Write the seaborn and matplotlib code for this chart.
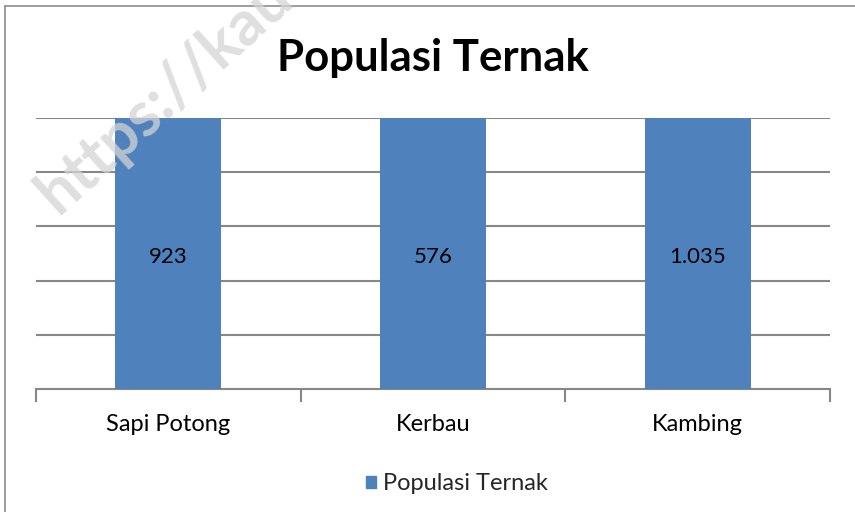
import matplotlib
matplotlib.use("Agg")
import matplotlib.pyplot as plt
import matplotlib.patches as mpatches
import seaborn as sns
import pandas as pd

categories = ["Sapi Potong", "Kerbau", "Kambing"]
values = [923, 576, 1035]
value_labels = ["923", "576", "1.035"]
series_name = "Populasi Ternak"

# 100% stacked representation: each bar is its own total
shares = [v / v * 100 for v in values]
df = pd.DataFrame({"Kategori": categories, "Persen": shares, "Seri": series_name})

sns.set_theme(style="white")
plt.rcParams['font.family'] = ['Lato', 'DejaVu Sans']

W, H = 855, 512
fig = plt.figure(figsize=(W / 100, H / 100), dpi=100)
ax = fig.add_axes([36 / W, 1 - 389 / H, (830 - 36) / W, (389 - 118) / H])

blue = "#4f81bd"
sns.barplot(data=df, x="Kategori", y="Persen", color=blue, width=0.4, ax=ax,
            saturation=1, zorder=3, linewidth=0, edgecolor=blue)

ax.set_ylim(0, 100)
ax.set_xlim(-0.5, 2.5)
ax.set_yticks([20, 40, 60, 80, 100])
ax.set_yticklabels([])
ax.tick_params(axis="y", length=0)
ax.yaxis.grid(True, color="#878787", linewidth=1.5, zorder=0)
ax.set_axisbelow(True)
for s in ["top", "right", "left"]:
    ax.spines[s].set_visible(False)
ax.spines["bottom"].set_color("#878787")
ax.spines["bottom"].set_linewidth(1.5)

ax.set_xticks([0, 1, 2])
ax.set_xticklabels(categories, fontsize=17, color="#000000")
ax.tick_params(axis="x", which="major", length=0, pad=18)
ax.set_xticks([-0.5, 0.5, 1.5, 2.5], minor=True)
ax.tick_params(axis="x", which="minor", bottom=True, length=9, width=1.5,
               color="#878787", direction="out")
ax.set_xlabel("")
ax.set_ylabel("")

for i, lab in enumerate(value_labels):
    ax.text(i, shares[i] / 2 - 1.2, lab, ha="center", va="center", fontsize=16, color="#000000", zorder=5)

fig.text(433 / W, 1 - 58 / H, series_name, ha="center", va="center",
         fontsize=31.5, fontweight="bold", color="#000000")

handle = mpatches.Patch(color=blue, label=series_name)
fig.legend(handles=[handle], loc="center", bbox_to_anchor=(457 / W, 1 - 484 / H),
           frameon=False, fontsize=17, handlelength=0.45, handleheight=0.45,
           handletextpad=0.3)

# chart frame (partially cropped)
fig.add_artist(plt.Line2D([5 / W, 1.0], [1 - 6 / H, 1 - 6 / H], transform=fig.transFigure,
                          color="#8c8c8c", linewidth=1.2))
fig.add_artist(plt.Line2D([5 / W, 5 / W], [0.0, 1 - 6 / H], transform=fig.transFigure,
                          color="#8c8c8c", linewidth=1.2))

# watermark (cropped by the picture's top edge, as in the reference)
fig.text(26 / W, 1 - 224 / H, "https://kau", rotation=42, fontsize=45, fontweight="bold",
         color="#d4d4d4", alpha=0.75, ha="left", va="bottom", zorder=10)

fig.savefig("out.png", dpi=100)
